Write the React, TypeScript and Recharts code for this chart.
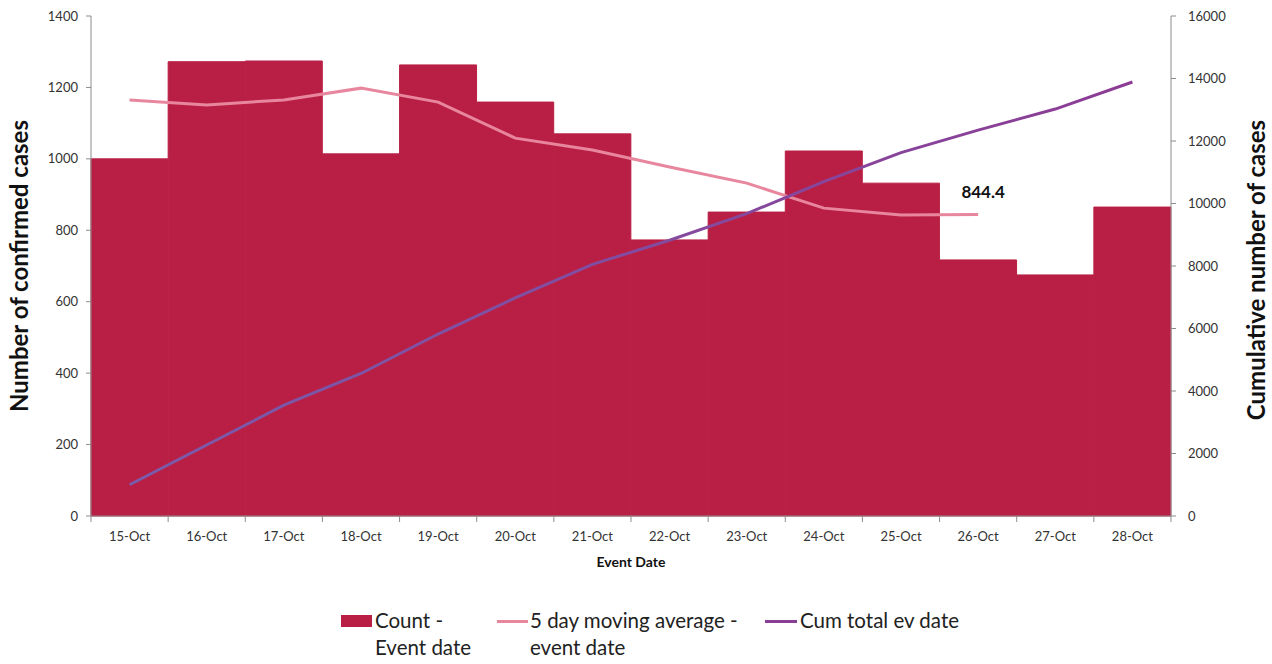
import React from 'react';
import {
  ComposedChart, Bar, Line, XAxis, YAxis, Legend, LabelList,
} from 'recharts';

const categories = ['15-Oct', '16-Oct', '17-Oct', '18-Oct', '19-Oct', '20-Oct', '21-Oct', '22-Oct', '23-Oct', '24-Oct', '25-Oct', '26-Oct', '27-Oct', '28-Oct'];
const counts = [1000, 1272, 1274, 1014, 1263, 1159, 1070, 773, 851, 1022, 932, 717, 675, 865];
const movingAvg = [1165, 1151, 1165, 1198, 1159, 1058, 1025, 977, 932, 862, 843, 844.4, null, null];
const cumTotal = [1000, 2272, 3546, 4560, 5823, 6982, 8052, 8825, 9676, 10698, 11630, 12347, 13022, 13887];
const leftTicks = [0, 200, 400, 600, 800, 1000, 1200, 1400];
const rightTicks = [0, 2000, 4000, 6000, 8000, 10000, 12000, 14000, 16000];

const data = categories.map((date, i) => ({
  date,
  count: counts[i],
  avg: movingAvg[i],
  cum: cumTotal[i],
}));

const FONT = 'Lato, "Open Sans", sans-serif';
const BAR = '#B91F44';
const PINK = '#E8869E';
const PURPLE = '#8A3F96';
const AXIS = '#8c8c8c';
const TEXT = '#333333';

const W = 1272;
const H = 664;
const LEFT_W = 91;
const RIGHT_W = 101;
const BAND = (W - LEFT_W - RIGHT_W) / categories.length;

const DateTick = (props: any) => {
  const { x, y, payload, index } = props;
  const last = index === categories.length - 1;
  return (
    <g>
      <line x1={x - BAND / 2} x2={x - BAND / 2} y1={y} y2={y + 6} stroke={AXIS} />
      {last && <line x1={x + BAND / 2} x2={x + BAND / 2} y1={y} y2={y + 6} stroke={AXIS} />}
      <text x={x} y={y + 25} textAnchor="middle" fill={TEXT} fontSize={13} fontFamily={FONT}>
        {payload.value}
      </text>
    </g>
  );
};

const LegendBox = () => (
  <div style={{ position: 'relative', width: W, height: 70, fontFamily: FONT, fontSize: 20.5, color: '#222' }}>
    <div style={{ position: 'absolute', left: 341, top: 25, width: 31, height: 12, background: BAR }} />
    <div style={{ position: 'absolute', left: 375, top: 17, lineHeight: '27px' }}>Count -<br />Event date</div>
    <div style={{ position: 'absolute', left: 497, top: 30, width: 31, height: 3, background: PINK }} />
    <div style={{ position: 'absolute', left: 530, top: 17, lineHeight: '27px' }}>5 day moving average -<br />event date</div>
    <div style={{ position: 'absolute', left: 765, top: 30, width: 32, height: 3, background: PURPLE }} />
    <div style={{ position: 'absolute', left: 800, top: 17, lineHeight: '27px' }}>Cum total ev date</div>
  </div>
);

const axisTitle = (text: string, dx: number, dy: number) => (p: any) => {
  const cx = p.viewBox.x + dx;
  const cy = p.viewBox.y + p.viewBox.height / 2 + dy;
  return (
    <text
      x={cx}
      y={cy}
      transform={`rotate(-90 ${cx} ${cy})`}
      textAnchor="middle"
      dominantBaseline="central"
      fontFamily={FONT}
      fontWeight="bold"
      fontSize={24}
      fill="#111"
    >
      {text}
    </text>
  );
};

export default function App() {
  return (
    <div style={{ position: 'absolute', left: 0, top: 0, background: '#fff' }}>
      <ComposedChart
        width={W}
        height={H}
        data={data}
        margin={{ top: 16, right: 0, left: 0, bottom: 18 }}
        barCategoryGap={0}
        barGap={0}
      >
        <defs>
          <linearGradient id="cumGrad" x1="0" y1="0" x2="1" y2="0">
            <stop offset="0%" stopColor="#7A5BAA" />
            <stop offset="100%" stopColor="#8C3C95" />
          </linearGradient>
        </defs>
        <XAxis
          dataKey="date"
          height={60}
          tickLine={false}
          tickSize={0}
          tickMargin={0}
          stroke={AXIS}
          interval={0}
          tick={<DateTick />}
          label={{
            content: (p: any) => (
              <text
                x={p.viewBox.x + p.viewBox.width / 2}
                y={p.viewBox.y + 51}
                textAnchor="middle"
                fontFamily={FONT}
                fontWeight="bold"
                fontSize={14}
                fill="#111"
              >
                Event Date
              </text>
            ),
          }}
        />
        <YAxis
          yAxisId="left"
          width={LEFT_W}
          domain={[0, 1400]}
          ticks={leftTicks}
          tickSize={5}
          tickMargin={8}
          stroke={AXIS}
          tick={{ fill: TEXT, fontSize: 13, fontFamily: FONT }}
          label={{ content: axisTitle('Number of confirmed cases', 18, 0) }}
        />
        <YAxis
          yAxisId="right"
          orientation="right"
          width={RIGHT_W}
          domain={[0, 16000]}
          ticks={rightTicks}
          tickSize={5}
          tickMargin={12}
          stroke={AXIS}
          tick={{ fill: TEXT, fontSize: 13, fontFamily: FONT }}
          label={{ content: axisTitle('Cumulative number of cases', 84, 4) }}
        />
        <Legend
          verticalAlign="bottom"
          height={70}
          content={<LegendBox />}
          wrapperStyle={{ left: 0, top: 590, width: W, height: 70 }}
        />
        <Bar
          yAxisId="left"
          dataKey="count"
          name="Count - Event date"
          fill={BAR}
          stroke={BAR}
          strokeWidth={1}
          isAnimationActive={false}
        />
        <Line
          yAxisId="left"
          dataKey="avg"
          name="5 day moving average - event date"
          stroke={PINK}
          strokeWidth={3}
          dot={false}
          activeDot={false}
          isAnimationActive={false}
        >
          <LabelList
            dataKey="avg"
            content={(p: any) =>
              p.index === 11 ? (
                <text x={p.x + 5} y={p.y - 16} textAnchor="middle" fontFamily={FONT} fontWeight="bold" fontSize={17} fill="#111">
                  {p.value}
                </text>
              ) : null
            }
          />
        </Line>
        <Line
          yAxisId="right"
          dataKey="cum"
          name="Cum total ev date"
          stroke="url(#cumGrad)"
          strokeWidth={3}
          dot={false}
          activeDot={false}
          isAnimationActive={false}
        />
      </ComposedChart>
    </div>
  );
}
